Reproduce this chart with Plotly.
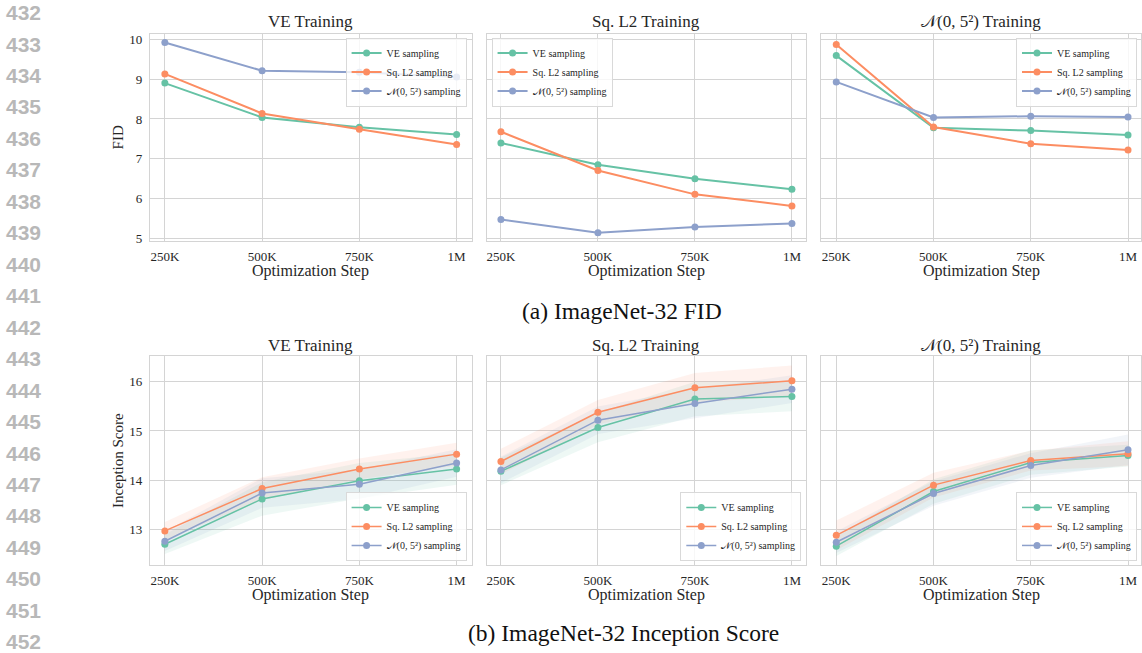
import plotly.graph_objects as go

W, H = 1142, 653

steps = [250000, 500000, 750000, 1000000]
step_labels = ["250K", "500K", "750K", "1M"]
series_names = ["VE sampling", "Sq. L2 sampling", "𝒩(0, 5²) sampling"]
panel_titles = ["VE Training", "Sq. L2 Training", "𝒩(0, 5²) Training"]
colors = ["#66c2a5", "#fc8d62", "#8da0cb"]
band_colors = ["rgba(102,194,165,0.11)", "rgba(252,141,98,0.11)", "rgba(141,160,203,0.11)"]

# ---- FID (top row) : [VE sampling, Sq. L2 sampling, N(0,5^2) sampling]
fid_ve_training = [
    [8.90, 8.04, 7.79, 7.61],
    [9.13, 8.14, 7.74, 7.36],
    [9.92, 9.21, 9.17, 9.05],
]
fid_sql2_training = [
    [7.40, 6.85, 6.50, 6.24],
    [7.68, 6.71, 6.11, 5.82],
    [5.48, 5.15, 5.29, 5.38],
]
fid_normal_training = [
    [9.59, 7.78, 7.71, 7.60],
    [9.87, 7.80, 7.38, 7.22],
    [8.93, 8.04, 8.07, 8.05],
]

# ---- Inception Score (bottom row) means
is_ve_training = [
    [12.70, 13.62, 13.99, 14.23],
    [12.97, 13.83, 14.23, 14.53],
    [12.76, 13.74, 13.92, 14.35],
]
is_sql2_training = [
    [14.18, 15.07, 15.65, 15.70],
    [14.38, 15.38, 15.88, 16.02],
    [14.21, 15.22, 15.56, 15.85],
]
is_normal_training = [
    [12.66, 13.77, 14.36, 14.50],
    [12.88, 13.90, 14.40, 14.54],
    [12.74, 13.73, 14.30, 14.62],
]
# Inception Score band half-widths
is_ve_training_err = [
    [0.20, 0.34, 0.36, 0.32],
    [0.18, 0.23, 0.21, 0.23],
    [0.20, 0.30, 0.30, 0.28],
]
is_sql2_training_err = [
    [0.28, 0.30, 0.35, 0.30],
    [0.26, 0.25, 0.30, 0.31],
    [0.27, 0.28, 0.30, 0.28],
]
is_normal_training_err = [
    [0.20, 0.25, 0.25, 0.22],
    [0.30, 0.25, 0.20, 0.25],
    [0.22, 0.25, 0.25, 0.31],
]

fid_panels = [fid_ve_training, fid_sql2_training, fid_normal_training]
is_panels = [is_ve_training, is_sql2_training, is_normal_training]
is_errs = [is_ve_training_err, is_sql2_training_err, is_normal_training_err]

SERIF = "Liberation Serif"
TXT = "#262626"
GRID = "#d4d4d4"

# panel pixel boxes
xpix = [(150, 472), (487, 807), (822, 1142)]
ypix_top = (32, 242)
ypix_bot = (358, 569)


def px_x(p):
    return p / W


def px_y(p):
    return 1 - p / H


fig = go.Figure()

legend_names = ["legend", "legend2", "legend3", "legend4", "legend5", "legend6"]

# top row
for j in range(3):
    ax = j + 1
    xa = "x" if ax == 1 else f"x{ax}"
    ya = "y" if ax == 1 else f"y{ax}"
    for k in range(3):
        fig.add_trace(go.Scatter(
            x=steps, y=fid_panels[j][k], mode="lines+markers", name=series_names[k],
            line=dict(color=colors[k], width=2), marker=dict(color=colors[k], size=7),
            xaxis=xa, yaxis=ya, legend=legend_names[j]))

# bottom row
for j in range(3):
    ax = j + 4
    xa = f"x{ax}"
    ya = f"y{ax}"
    for k in range(3):
        m = is_panels[j][k]
        e = is_errs[j][k]
        up = [a + b for a, b in zip(m, e)]
        lo = [a - b for a, b in zip(m, e)]
        fig.add_trace(go.Scatter(x=steps, y=up, mode="lines", line=dict(width=0, color=band_colors[k]),
                                 showlegend=False, hoverinfo="skip", xaxis=xa, yaxis=ya))
        fig.add_trace(go.Scatter(x=steps, y=lo, mode="lines", line=dict(width=0, color=band_colors[k]),
                                 fill="tonexty", fillcolor=band_colors[k],
                                 showlegend=False, hoverinfo="skip", xaxis=xa, yaxis=ya))
    for k in range(3):
        fig.add_trace(go.Scatter(
            x=steps, y=is_panels[j][k], mode="lines+markers", name=series_names[k],
            line=dict(color=colors[k], width=1.5), marker=dict(color=colors[k], size=7),
            xaxis=xa, yaxis=ya, legend=legend_names[j + 3]))

layout = dict(
    width=W, height=H, margin=dict(l=0, r=0, t=0, b=0),
    paper_bgcolor="white", plot_bgcolor="white",
    font=dict(family=SERIF, color=TXT, size=13),
    showlegend=True,
)

xranges = [[211500, 1038500], [213000, 1037000], [211500, 1033400]]
for i in range(6):
    j = i % 3
    row = i // 3
    key_x = "xaxis" if i == 0 else f"xaxis{i+1}"
    key_y = "yaxis" if i == 0 else f"yaxis{i+1}"
    yp = ypix_top if row == 0 else ypix_bot
    layout[key_x] = dict(
        domain=[px_x(xpix[j][0]), px_x(xpix[j][1])],
        anchor="y" if i == 0 else f"y{i+1}",
        range=xranges[j], tickvals=steps, ticktext=step_labels,
        showgrid=True, gridcolor=GRID, gridwidth=1, zeroline=False,
        showline=True, mirror=True, linecolor=GRID, linewidth=1,
        ticks="", tickfont=dict(size=13, family=SERIF, color=TXT),
        ticklabelstandoff=3,
    )
    layout[key_y] = dict(
        domain=[px_y(yp[1]), px_y(yp[0])],
        anchor="x" if i == 0 else f"x{i+1}",
        range=[4.93, 10.14] if row == 0 else [12.28, 16.52],
        tickvals=[5, 6, 7, 8, 9, 10] if row == 0 else [13, 14, 15, 16],
        showticklabels=(j == 0),
        showgrid=True, gridcolor=GRID, gridwidth=1, zeroline=False,
        showline=True, mirror=True, linecolor=GRID, linewidth=1,
        ticks="", tickfont=dict(size=13, family=SERIF, color=TXT),
        ticklabelstandoff=4,
    )

# legends
leg_common = dict(
    bgcolor="rgba(255,255,255,0.8)", bordercolor="#d9d9d9", borderwidth=1,
    font=dict(size=10, family=SERIF, color=TXT), itemwidth=30,
    tracegroupgap=0, traceorder="normal",
)
leg_pos = [
    (467, 36, "right", "top"),
    (492, 36, "left", "top"),
    (1138, 36, "right", "top"),
    (467, 565, "right", "bottom"),
    (802, 565, "right", "bottom"),
    (1138, 565, "right", "bottom"),
]
for name, (lx, ly, xa, ya) in zip(legend_names, leg_pos):
    layout[name] = dict(x=px_x(lx), y=px_y(ly), xanchor=xa, yanchor=ya, **leg_common)

fig.update_layout(**layout)

ann = []
# subplot titles
for j in range(3):
    cx = (xpix[j][0] + xpix[j][1]) / 2
    for ty in (20, 347):
        ann.append(dict(x=px_x(cx), y=px_y(ty), xref="paper", yref="paper", text=panel_titles[j],
                        showarrow=False, xanchor="center", yanchor="middle",
                        font=dict(size=17, family=SERIF, color=TXT)))
    for ty in (272, 599):
        ann.append(dict(x=px_x(cx), y=px_y(ty), xref="paper", yref="paper", text="Optimization Step",
                        showarrow=False, xanchor="center", yanchor="middle",
                        font=dict(size=16, family=SERIF, color=TXT)))
# y titles
ann.append(dict(x=px_x(118), y=px_y(137), xref="paper", yref="paper", text="FID", textangle=-90,
                showarrow=False, xanchor="center", yanchor="middle", font=dict(size=15, family=SERIF, color=TXT)))
ann.append(dict(x=px_x(118), y=px_y(463), xref="paper", yref="paper", text="Inception Score", textangle=-90,
                showarrow=False, xanchor="center", yanchor="middle", font=dict(size=15, family=SERIF, color=TXT)))
# captions
ann.append(dict(x=px_x(623), y=px_y(312), xref="paper", yref="paper", text="(a) ImageNet-32 FID",
                showarrow=False, xanchor="center", yanchor="middle", font=dict(size=23.5, family=SERIF, color="#111111")))
ann.append(dict(x=px_x(624), y=px_y(638), xref="paper", yref="paper", text="(b) ImageNet-32 Inception Score",
                showarrow=False, xanchor="center", yanchor="middle", font=dict(size=23.5, family=SERIF, color="#111111")))
# line numbers
line_numbers = list(range(432, 453))
for i, n in enumerate(line_numbers):
    ann.append(dict(x=px_x(4), y=px_y(10.7 + 31.8 * i), xref="paper", yref="paper", text=f"<b>{n}</b>",
                    showarrow=False, xanchor="left", yanchor="middle",
                    font=dict(size=21, family="Liberation Sans", color="#b8b8b8")))

fig.update_layout(annotations=ann)
fig.write_html("out.html", config={"displayModeBar": False},
               post_script="document.body.style.margin='0';document.body.style.padding='0';")
